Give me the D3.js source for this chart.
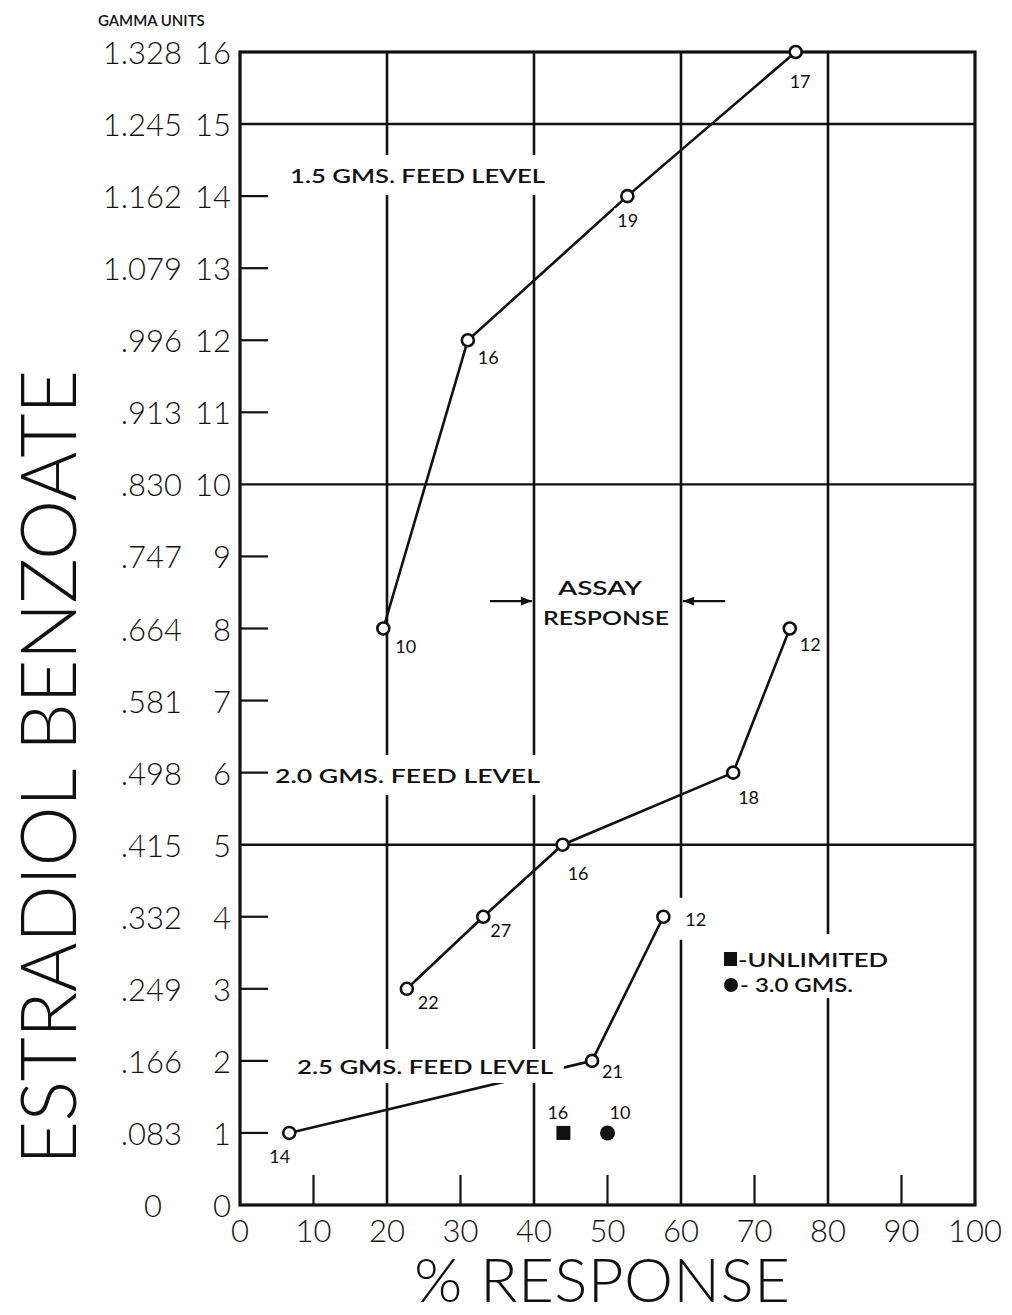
<!DOCTYPE html>
<html>
<head>
<meta charset="utf-8">
<script src="https://cdn.jsdelivr.net/npm/d3@7"></script>
<style>
  body { margin: 0; background: #fff; }
  text { font-family: "Lato", "Open Sans", sans-serif; fill: #111; }
</style>
</head>
<body>
<svg id="chart" width="1012" height="1315"></svg>
<script>
// values
const feed15X = [19.5, 31.0, 52.7, 75.6];
const feed15Y = [8, 12, 14, 16];
const feed15N = [10, 16, 19, 17];

const feed20X = [22.7, 33.1, 43.9, 67.1, 74.8];
const feed20Y = [3, 4, 5, 6, 8];
const feed20N = [22, 27, 16, 18, 12];

const feed25X = [6.7, 47.9, 57.6];
const feed25Y = [1, 2, 4];
const feed25N = [14, 21, 12];

const unlimitedX = [44], unlimitedY = [1], unlimitedN = [16];
const gms30X = [50], gms30Y = [1], gms30N = [10];

const unitTicks = d3.range(0, 17);
const gammaTicks = ["0", ".083", ".166", ".249", ".332", ".415", ".498", ".581", ".664",
  ".747", ".830", ".913", ".996", "1.079", "1.162", "1.245", "1.328"];
const xTicks = d3.range(0, 101, 10);

const svg = d3.select("#chart");
const x = d3.scaleLinear().domain([0, 100]).range([240, 975]);
const y = d3.scaleLinear().domain([0, 16]).range([1205, 52]);

const ink = "#111";
const grid = svg.append("g").attr("stroke", ink).attr("stroke-linecap", "butt");

// heavy grid lines
[20, 40, 60, 80].forEach(v => {
  grid.append("line").attr("x1", x(v)).attr("x2", x(v)).attr("y1", y(16)).attr("y2", y(0)).attr("stroke-width", 2.6);
});
[5, 10, 15].forEach(v => {
  grid.append("line").attr("x1", x(0)).attr("x2", x(100)).attr("y1", y(v)).attr("y2", y(v)).attr("stroke-width", 2.4);
});
// short ticks
[10, 30, 50, 70, 90].forEach(v => {
  grid.append("line").attr("x1", x(v)).attr("x2", x(v)).attr("y1", y(0)).attr("y2", y(0) - 30).attr("stroke-width", 2.2);
});
unitTicks.filter(v => v % 5 !== 0 && v !== 16).forEach(v => {
  grid.append("line").attr("x1", x(0)).attr("x2", x(0) + 28).attr("y1", y(v)).attr("y2", y(v)).attr("stroke-width", 2.2);
});
// frame
svg.append("rect")
  .attr("x", x(0)).attr("y", y(16))
  .attr("width", x(100) - x(0)).attr("height", y(0) - y(16))
  .attr("fill", "none").attr("stroke", ink).attr("stroke-width", 3.2);

// tick labels
svg.append("g").selectAll("text").data(xTicks).enter().append("text")
  .attr("x", d => x(d)).attr("y", y(0) + 37)
  .attr("text-anchor", "middle").style("font-size", "31px").style("font-weight", 300)
  .text(d => d);
svg.append("g").selectAll("text").data(unitTicks).enter().append("text")
  .attr("x", 231).attr("y", d => y(d) + 12)
  .attr("text-anchor", "end").style("font-size", "31px").style("font-weight", 300)
  .text(d => d);
svg.append("g").selectAll("text").data(gammaTicks).enter().append("text")
  .attr("x", (d, i) => i === 0 ? 153 : 182).attr("y", (d, i) => y(i) + 12)
  .attr("text-anchor", (d, i) => i === 0 ? "middle" : "end")
  .style("font-size", "31px").style("font-weight", 300)
  .text(d => d);

svg.append("text").attr("x", 98).attr("y", 26)
  .style("font-size", "15px").style("font-weight", 600)
  .text("GAMMA UNITS");

// axis titles
svg.append("text")
  .attr("transform", "translate(76,1165) rotate(-90)")
  .attr("textLength", 795).attr("lengthAdjust", "spacing")
  .style("font-size", "76px").style("font-weight", 300)
  .text("ESTRADIOL BENZOATE");
svg.append("text")
  .attr("x", 414).attr("y", 1302)
  .attr("textLength", 376).attr("lengthAdjust", "spacing")
  .style("font-size", "62px").style("font-weight", 300)
  .text("% RESPONSE");

// connecting lines
const line = d3.line().x(d => x(d[0])).y(d => y(d[1]));
const zipPts = (xs, ys, ns) => xs.map((v, i) => [v, ys[i], ns[i]]);
const feed15 = zipPts(feed15X, feed15Y, feed15N);
const feed20 = zipPts(feed20X, feed20Y, feed20N);
const feed25 = zipPts(feed25X, feed25Y, feed25N);
[feed15, feed20, feed25].forEach(pts => {
  svg.append("path").datum(pts).attr("d", line)
    .attr("fill", "none").attr("stroke", ink).attr("stroke-width", 2.6);
});

// text with a white patch behind it, so grid lines break around it
const notes = svg.append("g");
function note(tx, ty, str, size, opts = {}) {
  const g = notes.append("g");
  const bg = g.append("rect").attr("fill", "#fff");
  const t = g.append("text").attr("x", tx).attr("y", ty)
    .style("font-size", size + "px").style("font-weight", opts.weight || 600)
    .attr("text-anchor", opts.anchor || "start")
    .text(str);
  if (opts.len) t.attr("textLength", opts.len).attr("lengthAdjust", "spacingAndGlyphs");
  const b = t.node().getBBox();
  const px = opts.padX == null ? 4 : opts.padX, py = opts.padY == null ? 4 : opts.padY;
  bg.attr("x", b.x - px).attr("y", b.y - py).attr("width", b.width + 2 * px).attr("height", b.height + 2 * py);
  return g;
}

note(290, 183, "1.5 GMS. FEED LEVEL", 20, { len: 255, padY: 8 });
note(275, 783, "2.0 GMS. FEED LEVEL", 20, { len: 265, padY: 8 });
note(297, 1074, "2.5 GMS. FEED LEVEL", 20, { len: 256, padX: 10, padY: 5 });
note(600, 595, "ASSAY", 19, { anchor: "middle", len: 84 });
note(606, 625, "RESPONSE", 19, { anchor: "middle", len: 126 });

// assay response arrows
const defs = svg.append("defs");
defs.append("marker").attr("id", "arrow").attr("viewBox", "0 0 10 10")
  .attr("refX", 10).attr("refY", 5).attr("markerWidth", 5).attr("markerHeight", 5)
  .attr("orient", "auto").attr("markerUnits", "strokeWidth")
  .append("path").attr("d", "M0,1 L10,5 L0,9 Z").attr("fill", ink);
[[34, 40], [66, 60]].forEach(([a, b]) => {
  svg.append("line").attr("x1", x(a)).attr("x2", x(b) + (b > a ? -2 : 2))
    .attr("y1", y(8.38)).attr("y2", y(8.38))
    .attr("stroke", ink).attr("stroke-width", 2.2).attr("marker-end", "url(#arrow)");
});

// legend
note(738, 967, "-UNLIMITED", 19, { len: 150, padX: 20, padY: 14 });
note(740, 992, "- 3.0 GMS.", 19, { len: 113, padX: 2, padY: 2 });
svg.append("rect").attr("x", 724).attr("y", 952).attr("width", 13).attr("height", 14).attr("fill", ink);
svg.append("circle").attr("cx", 731).attr("cy", 985).attr("r", 7).attr("fill", ink);

// point labels: [dx, dy] from each marker, optional third item widens the white patch
const labelOffsets = {
  feed15: [[12, 24], [10, 24], [-10, 31], [-6, 36]],
  feed20: [[11, 20], [7, 20], [5, 35], [5, 31], [10, 22]],
  feed25: [[-20, 30], [10, 17], [22, 9, 8]],
  unlimited: [[-16, -14]],
  gms30: [[2, -14]]
};
function labels(pts, offs) {
  pts.forEach((p, i) => {
    const o = offs[i];
    note(x(p[0]) + o[0], y(p[1]) + o[1], p[2], 18, { weight: 400, padX: o[2] || 3, padY: o[2] ? 10 : 1 });
  });
}
labels(feed15, labelOffsets.feed15);
labels(feed20, labelOffsets.feed20);
labels(feed25, labelOffsets.feed25);
labels(zipPts(unlimitedX, unlimitedY, unlimitedN), labelOffsets.unlimited);
labels(zipPts(gms30X, gms30Y, gms30N), labelOffsets.gms30);

// markers
svg.append("g").selectAll("circle").data([...feed15, ...feed20, ...feed25]).enter().append("circle")
  .attr("cx", d => x(d[0])).attr("cy", d => y(d[1])).attr("r", 6)
  .attr("fill", "#fff").attr("stroke", ink).attr("stroke-width", 2.6);
svg.append("g").selectAll("rect").data(zipPts(unlimitedX, unlimitedY, unlimitedN)).enter().append("rect")
  .attr("x", d => x(d[0]) - 7).attr("y", d => y(d[1]) - 7).attr("width", 14).attr("height", 14).attr("fill", ink);
svg.append("g").selectAll("circle").data(zipPts(gms30X, gms30Y, gms30N)).enter().append("circle")
  .attr("cx", d => x(d[0])).attr("cy", d => y(d[1])).attr("r", 7.5).attr("fill", ink);
</script>
</body>
</html>
